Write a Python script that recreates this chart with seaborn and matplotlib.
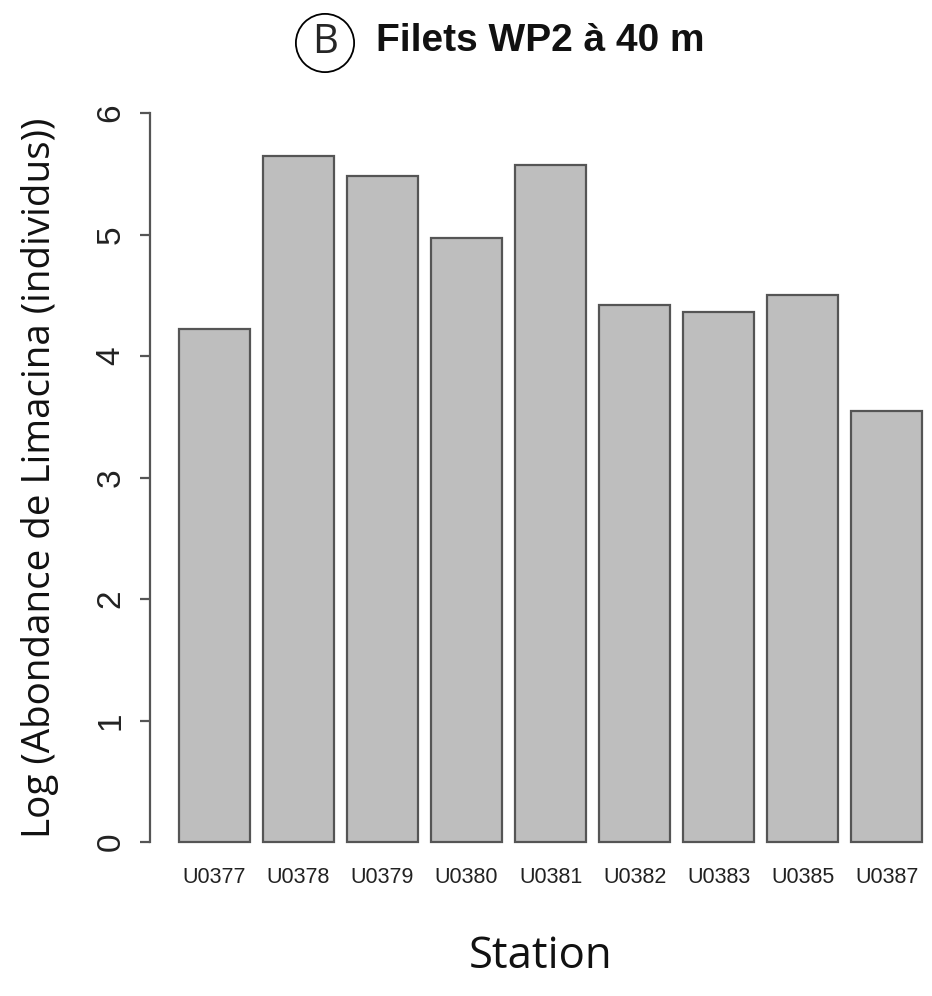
import matplotlib
matplotlib.use("Agg")
import matplotlib.pyplot as plt
import seaborn as sns
import pandas as pd

stations = ["U0377", "U0378", "U0379", "U0380", "U0381", "U0382", "U0383", "U0385", "U0387"]
log_abundance = [4.22, 5.65, 5.48, 4.97, 5.57, 4.42, 4.36, 4.50, 3.55]
y_ticks = [0, 1, 2, 3, 4, 5, 6]

df = pd.DataFrame({"Station": stations, "Value": log_abundance})

sns.set_theme(style="white")
plt.rcParams["font.family"] = ["Liberation Sans", "DejaVu Sans"]

W, H = 932, 996
fig = plt.figure(figsize=(W / 100, H / 100), dpi=100)
ax = fig.add_axes([150 / W, 1 - 842 / H, (932 - 150) / W, (842 - 113) / H])

sns.barplot(data=df, x="Station", y="Value", color="#BEBEBE", saturation=1,
            edgecolor="#555555", linewidth=1.6, width=0.845, ax=ax, errorbar=None)
for p in ax.patches:
    p.set_clip_on(False)

ax.set_xlim(-0.768, 8.54)
ax.set_ylim(0, 6)
for s in ["top", "right", "bottom"]:
    ax.spines[s].set_visible(False)
ax.spines["left"].set_color("#555555")
ax.spines["left"].set_linewidth(1.6)

ax.set_yticks(y_ticks)
ax.set_yticklabels([str(t) for t in y_ticks], rotation=90, va="center", fontsize=24, color="#222222")
ax.tick_params(axis="y", length=7, width=1.6, color="#555555", pad=10, left=True)
ax.tick_params(axis="x", length=0, pad=18, labelsize=15.5, labelcolor="#222222")

ax.set_xlabel("Station", fontsize=31.5, family=["Open Sans", "DejaVu Sans"], color="#111111")
ax.xaxis.set_label_coords(0.5, (842 - 957) / 729)
ax.xaxis.label.set_va("center")
ax.set_ylabel("Log (Abondance de Limacina (individus))", fontsize=27.8,
              family=["Open Sans", "DejaVu Sans"], color="#111111")
ax.yaxis.set_label_coords((40 - 150) / 782, 0.5)
ax.yaxis.label.set_va("center")

fig.text(325 / W, 1 - 43 / H, "B", fontsize=29, family=["Open Sans", "DejaVu Sans"],
         ha="center", va="center",
         bbox=dict(boxstyle="circle,pad=0.22", fc="white", ec="black", lw=1.3))
fig.text(376 / W, 1 - 41 / H, "Filets WP2 à 40 m", fontsize=28, fontweight="bold",
         ha="left", va="center", color="#111111")

fig.savefig("out.png", dpi=100, facecolor="white")
